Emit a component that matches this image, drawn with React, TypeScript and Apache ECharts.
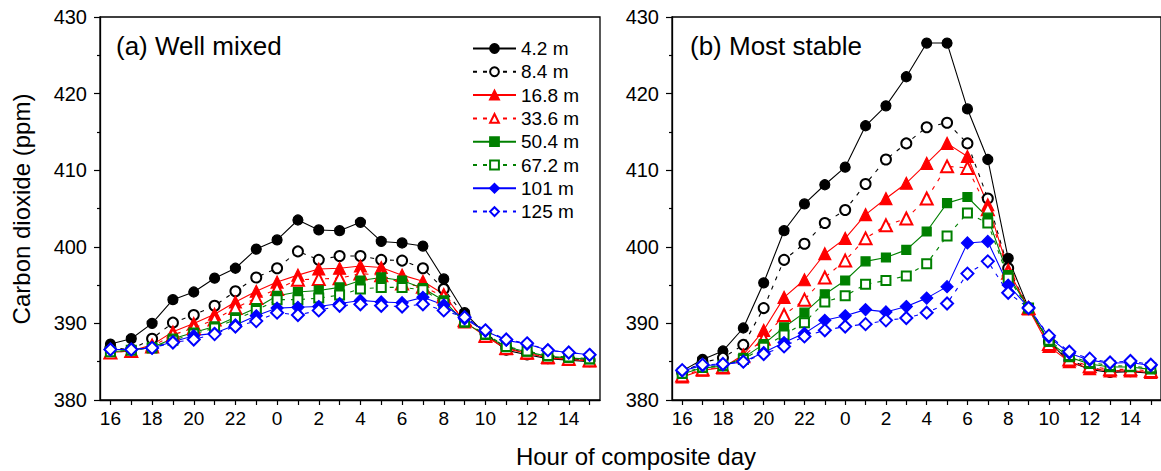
import React, { useEffect, useRef } from "react";
import * as echarts from "echarts";

const hours = ["16","17","18","19","20","21","22","23","0","1","2","3","4","5","6","7","8","9","10","11","12","13","14","15"];
const heights = ["4.2 m", "8.4 m", "16.8 m", "33.6 m", "50.4 m", "67.2 m", "101 m", "125 m"];
const yTicks = { min: 380, max: 430, interval: 10 };

// (a) Well mixed
const mixed42 = [387.3, 388.0, 390.0, 393.1, 394.1, 395.9, 397.2, 399.7, 400.9, 403.5, 402.2, 402.1, 403.2, 400.7, 400.5, 400.1, 395.8, 391.4, 388.6, 386.5, 385.9, 385.4, 385.2, 385.0];
const mixed84 = [386.8, 386.6, 388.0, 390.1, 391.1, 392.3, 394.2, 396.0, 397.2, 399.4, 398.3, 398.8, 398.8, 398.3, 398.2, 397.2, 394.5, 391.0, 388.7, 386.8, 386.1, 385.6, 385.4, 385.2];
const mixed168 = [386.2, 386.4, 387.2, 388.9, 390.0, 391.2, 392.8, 394.2, 395.4, 396.3, 397.1, 397.2, 397.5, 397.3, 396.3, 395.5, 393.8, 390.2, 388.3, 386.7, 386.1, 385.5, 385.3, 385.1];
const mixed336 = [386.2, 386.4, 387.0, 388.5, 389.4, 390.5, 392.0, 393.3, 394.5, 395.7, 395.8, 395.9, 396.5, 396.3, 395.2, 394.8, 393.5, 390.4, 388.4, 386.8, 386.2, 385.6, 385.4, 385.2];
const mixed504 = [386.3, 386.5, 386.9, 388.0, 388.8, 389.6, 390.8, 392.0, 393.6, 394.1, 394.3, 394.7, 395.6, 396.0, 395.6, 394.6, 393.0, 390.1, 388.5, 386.9, 386.3, 385.7, 385.5, 385.3];
const mixed672 = [386.3, 386.5, 386.8, 387.8, 388.6, 389.4, 390.5, 391.7, 393.1, 393.1, 393.3, 393.7, 394.5, 394.7, 394.7, 394.4, 392.7, 390.2, 388.6, 387.0, 386.4, 385.8, 385.6, 385.4];
const mixed101 = [386.6, 386.6, 386.8, 387.6, 388.4, 388.7, 389.8, 391.0, 392.0, 392.1, 392.2, 392.6, 393.0, 392.8, 392.7, 393.4, 392.4, 390.6, 389.0, 387.8, 387.3, 386.5, 386.2, 385.9];
const mixed125 = [386.6, 386.6, 386.8, 387.5, 387.9, 388.6, 389.6, 390.3, 391.4, 391.1, 391.7, 392.3, 392.5, 392.3, 392.2, 392.5, 391.7, 390.8, 389.1, 387.9, 387.4, 386.5, 386.2, 385.9];

// (b) Most stable
const stable42 = [383.8, 385.3, 386.4, 389.4, 395.3, 402.1, 405.6, 408.1, 410.4, 415.8, 418.4, 422.2, 426.6, 426.6, 418.0, 411.4, 398.5, 392.0, 387.6, 385.0, 384.0, 383.6, 383.7, 383.5];
const stable84 = [383.6, 384.9, 385.5, 387.2, 392.0, 398.3, 400.4, 403.1, 404.8, 408.2, 411.4, 413.5, 415.6, 416.2, 413.5, 406.3, 397.2, 392.0, 387.6, 385.2, 384.2, 383.8, 383.8, 383.6];
const stable168 = [383.0, 383.9, 384.2, 385.9, 389.1, 393.4, 395.7, 399.1, 401.1, 404.2, 406.3, 408.3, 410.9, 413.5, 411.8, 405.5, 397.0, 391.9, 387.0, 385.0, 384.1, 383.8, 383.8, 383.6];
const stable336 = [383.2, 384.0, 384.3, 385.7, 388.0, 391.1, 393.1, 396.0, 398.2, 401.1, 402.8, 403.7, 406.3, 410.5, 410.3, 404.9, 396.6, 392.0, 387.3, 385.3, 384.4, 384.0, 384.0, 383.8];
const stable504 = [383.4, 384.2, 384.4, 385.5, 387.3, 389.5, 391.4, 393.8, 395.6, 398.1, 398.6, 399.6, 402.0, 405.7, 406.5, 403.8, 396.3, 392.0, 387.6, 385.6, 384.7, 384.3, 384.3, 384.0];
const stable672 = [383.5, 384.3, 384.5, 385.3, 386.9, 388.5, 390.1, 392.8, 393.6, 395.1, 395.6, 396.2, 397.8, 401.4, 404.4, 403.1, 395.9, 392.0, 387.8, 385.8, 384.9, 384.5, 384.4, 384.2];
const stable101 = [383.8, 384.5, 384.6, 385.0, 386.2, 387.5, 388.7, 390.4, 391.0, 391.8, 391.5, 392.2, 393.3, 394.8, 400.5, 400.7, 395.0, 392.1, 388.2, 386.1, 385.2, 384.8, 384.9, 384.5];
const stable125 = [383.9, 384.6, 384.7, 385.0, 386.0, 387.0, 388.3, 389.1, 389.6, 389.9, 390.4, 390.7, 391.4, 392.6, 396.5, 398.1, 394.0, 392.0, 388.4, 386.3, 385.4, 384.9, 385.1, 384.6];

const mixedData = [mixed42, mixed84, mixed168, mixed336, mixed504, mixed672, mixed101, mixed125];
const stableData = [stable42, stable84, stable168, stable336, stable504, stable672, stable101, stable125];

const colors = ["#000000", "#000000", "#ff0000", "#ff0000", "#008000", "#008000", "#0000ff", "#0000ff"];
const symbols = ["circle", "emptyCircle", "triangle", "emptyTriangle", "rect", "emptyRect", "diamond", "emptyDiamond"];
const symbolSizes = [10, 10, 12, 12, 9, 9, 12, 12];
const dashed = [false, true, false, true, false, true, false, true];

const FONT = "'Liberation Sans', Arial, sans-serif";

export default function App() {
  const ref = useRef<HTMLDivElement>(null);
  useEffect(() => {
    if (!ref.current) return;
    const chart = echarts.init(ref.current, undefined, { renderer: "svg" });
    const grids = [
      { left: 100, top: 17, width: 500, height: 383 },
      { left: 672, top: 17, width: 500, height: 383 },
    ].map((g) => ({ ...g, show: true, borderColor: "#000", borderWidth: 1.3, backgroundColor: "transparent" }));

    const xAxes = [0, 1].map((i) => ({
      type: "category",
      gridIndex: i,
      data: hours,
      boundaryGap: true,
      axisLine: { show: true, lineStyle: { color: "#000", width: 1.3 } },
      axisTick: { show: true, alignWithLabel: true, interval: 0, length: 5, lineStyle: { color: "#000", width: 1.2 } },
      axisLabel: { interval: 1, color: "#000", fontSize: 19, fontFamily: FONT, margin: 9 },
      splitLine: { show: false },
    }));
    const yAxes = [0, 1].map((i) => ({
      type: "value",
      gridIndex: i,
      min: yTicks.min,
      max: yTicks.max,
      interval: yTicks.interval,
      axisLine: { show: true, lineStyle: { color: "#000", width: 1.3 } },
      axisTick: { show: true, length: 6, lineStyle: { color: "#000", width: 1.2 } },
      minorTick: { show: true, splitNumber: 2, length: 3, lineStyle: { color: "#000", width: 1.2 } },
      axisLabel: { color: "#000", fontSize: 20, fontFamily: FONT, margin: 13 },
      splitLine: { show: false },
      minorSplitLine: { show: false },
    }));

    const series: any[] = [];
    [mixedData, stableData].forEach((set, p) => {
      set.forEach((d, k) => {
        series.push({
          type: "line",
          name: heights[k],
          xAxisIndex: p,
          yAxisIndex: p,
          data: d,
          symbol: symbols[k],
          symbolSize: symbolSizes[k],
          showAllSymbol: true,
          color: colors[k],
          itemStyle: { color: colors[k], borderColor: colors[k], borderWidth: 1.2 },
          lineStyle: { color: colors[k], width: 1.1, type: dashed[k] ? [4, 6] : "solid" },
          emphasis: { disabled: true },
        });
      });
    });

    chart.setOption({
      animation: false,
      backgroundColor: "#fff",
      textStyle: { fontFamily: FONT },
      grid: grids,
      xAxis: xAxes,
      yAxis: yAxes,
      legend: {
        orient: "vertical",
        left: 467,
        top: 34,
        itemWidth: 43,
        itemHeight: 11,
        itemGap: 4.3,
        data: heights,
        textStyle: { color: "#000", fontSize: 19, lineHeight: 19, fontFamily: FONT },
      },
      graphic: [
        { type: "text", left: 116, top: 33, style: { text: "(a) Well mixed", font: `26px ${FONT}`, fill: "#000" } },
        { type: "text", left: 690, top: 33, style: { text: "(b) Most stable", font: `26px ${FONT}`, fill: "#000" } },
        {
          type: "text",
          x: 21,
          y: 209,
          rotation: Math.PI / 2,
          style: { text: "Carbon dioxide (ppm)", font: `24px ${FONT}`, fill: "#000", align: "center", verticalAlign: "middle" },
        },
        {
          type: "text",
          x: 636,
          y: 456,
          style: { text: "Hour of composite day", font: `24px ${FONT}`, fill: "#000", align: "center", verticalAlign: "middle" },
        },
      ],
      series,
    });
    return () => chart.dispose();
  }, []);
  return <div ref={ref} style={{ position: "absolute", left: 0, top: 0, width: 1161, height: 471 }} />;
}
